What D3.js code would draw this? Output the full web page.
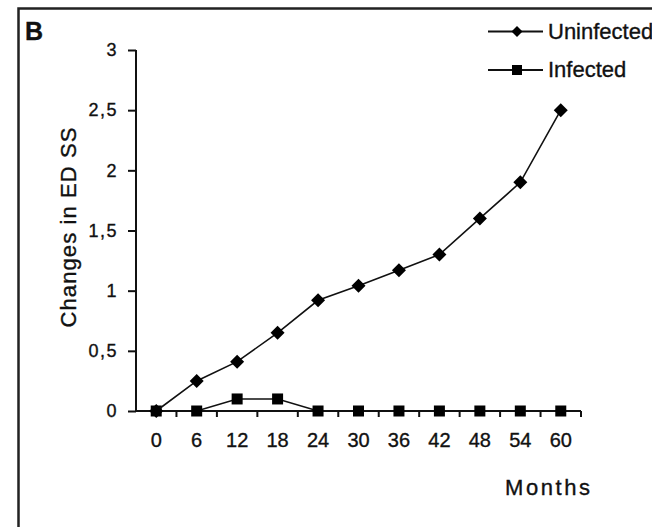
<!DOCTYPE html>
<html>
<head>
<meta charset="utf-8">
<script src="https://cdn.jsdelivr.net/npm/d3@7"></script>
<style>
  html, body { margin: 0; padding: 0; background: #fff; }
  svg { display: block; }
  text { font-family: "Liberation Sans", Arial, sans-serif; fill: #111; stroke: #111; stroke-width: 0.35px; }
</style>
</head>
<body>
<div id="chart"></div>
<script>
// Follow-up months and mean change in EDSS per group
const months = [0, 6, 12, 18, 24, 30, 36, 42, 48, 54, 60];
const uninfected = [0, 0.25, 0.41, 0.65, 0.92, 1.04, 1.17, 1.30, 1.60, 1.90, 2.50];
const infected = [0, 0, 0.10, 0.10, 0, 0, 0, 0, 0, 0, 0];
const yTicks = [0, 0.5, 1, 1.5, 2, 2.5, 3];
const seriesNames = ["Uninfected", "Infected"];
const panelLabel = "B";
const xTitle = "Months";
const yTitle = "Changes in ED SS";

const W = 652, H = 527;
const svg = d3.select("#chart").append("svg")
  .attr("width", W).attr("height", H);

// Panel frame (only top and left edges fall inside the view)
svg.append("rect")
  .attr("x", 18.5).attr("y", 8.5)
  .attr("width", 700).attr("height", 600)
  .attr("fill", "none").attr("stroke", "#222").attr("stroke-width", 2.5);

svg.append("text")
  .attr("x", 25).attr("y", 40)
  .style("font-size", "25px").style("font-weight", "bold")
  .text(panelLabel);

const x = d3.scaleBand().domain(months).range([136, 581]).padding(0);
const y = d3.scaleLinear().domain([0, 3]).range([411, 50]);
const cx = d => x(d) + x.bandwidth() / 2;

// Y axis
const yAxis = svg.append("g").attr("transform", `translate(${x.range()[0]},0)`)
  .call(d3.axisLeft(y).tickValues(yTicks).tickSize(8).tickPadding(10)
    .tickFormat(d => String(d).replace(".", ",")));
yAxis.select(".domain").attr("stroke", "#111").attr("stroke-width", 2)
  .attr("d", `M0,${y(3)}V${y(0) + 1}`);
yAxis.selectAll(".tick line").attr("stroke", "#111").attr("stroke-width", 2);
yAxis.selectAll(".tick text")
  .style("font-size", "18px").style("letter-spacing", "1.5px")
  .attr("fill", "#111").attr("font-family", null);

// X axis: labels at category centres, tick marks at category boundaries
const xAxis = svg.append("g").attr("transform", `translate(0,${y(0)})`)
  .call(d3.axisBottom(x).tickSize(0).tickPadding(22));
xAxis.select(".domain").attr("stroke", "#111").attr("stroke-width", 2)
  .attr("d", `M${x.range()[0]},0H${x.range()[1]}`);
xAxis.selectAll(".tick text")
  .style("font-size", "20px").attr("fill", "#111")
  .attr("font-family", null);
const bounds = d3.range(months.length + 1).map(i => x.range()[0] + i * x.step());
xAxis.selectAll("line.bound").data(bounds.slice(1)).join("line")
  .attr("class", "bound")
  .attr("x1", d => d).attr("x2", d => d)
  .attr("y1", 0).attr("y2", 6)
  .attr("stroke", "#111").attr("stroke-width", 2);

// Axis titles
svg.append("text")
  .attr("x", 505).attr("y", 495)
  .attr("textLength", 85).attr("lengthAdjust", "spacing")
  .style("font-size", "22px")
  .text(xTitle);

svg.append("text")
  .attr("transform", "translate(76,227.5) rotate(-90)")
  .attr("text-anchor", "middle")
  .attr("textLength", 200).attr("lengthAdjust", "spacing")
  .style("font-size", "22px")
  .text(yTitle);

// Series lines and markers
const line = d3.line().x((d, i) => cx(months[i])).y(d => y(d));
const diamondPath = r => `M0,${-r}L${r},0L0,${r}L${-r},0Z`;

function drawSeries(values, kind) {
  svg.append("path").datum(values)
    .attr("d", line)
    .attr("fill", "none").attr("stroke", "#111").attr("stroke-width", 1.6);
  const g = svg.append("g");
  if (kind === "diamond") {
    g.selectAll("path").data(values).join("path")
      .attr("transform", (d, i) => `translate(${cx(months[i])},${y(d)})`)
      .attr("d", diamondPath(7))
      .attr("fill", "#000");
  } else {
    g.selectAll("rect").data(values).join("rect")
      .attr("x", (d, i) => cx(months[i]) - 5.5)
      .attr("y", d => y(d) - 5.5)
      .attr("width", 11).attr("height", 11)
      .attr("fill", "#000");
  }
}
drawSeries(infected, "square");
drawSeries(uninfected, "diamond");

// Legend
const legendRows = [
  { name: seriesNames[0], kind: "diamond", y: 31.5 },
  { name: seriesNames[1], kind: "square", y: 70 }
];
legendRows.forEach(r => {
  svg.append("line")
    .attr("x1", 488).attr("x2", 543).attr("y1", r.y).attr("y2", r.y)
    .attr("stroke", "#111").attr("stroke-width", 2);
  if (r.kind === "diamond") {
    svg.append("path")
      .attr("transform", `translate(517,${r.y})`)
      .attr("d", diamondPath(5.5))
      .attr("fill", "#000");
  } else {
    svg.append("rect")
      .attr("x", 512).attr("y", r.y - 5)
      .attr("width", 10).attr("height", 10).attr("fill", "#000");
  }
  svg.append("text")
    .attr("x", 548).attr("y", r.y + 7)
    .style("font-size", "22px")
    .text(r.name);
});
</script>
</body>
</html>
